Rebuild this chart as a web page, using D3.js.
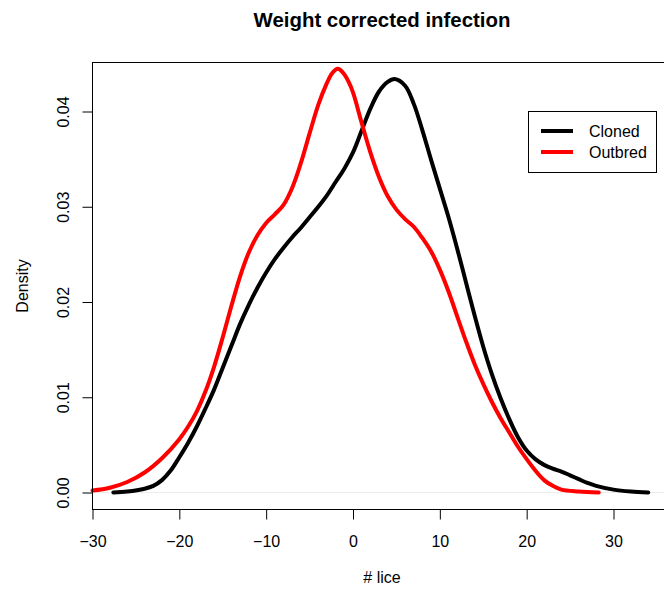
<!DOCTYPE html>
<html>
<head>
<meta charset="utf-8">
<script src="https://cdn.jsdelivr.net/npm/d3@7"></script>
<style>
html,body{margin:0;padding:0;background:#fff;}
svg{display:block;font-family:"Liberation Sans",Arial,Helvetica,sans-serif;}
</style>
</head>
<body>
<script>
// ---- data ----
const title = "Weight corrected infection";
const xLabel = "# lice";
const yLabel = "Density";
const seriesNames = ["Cloned", "Outbred"];
const seriesColors = ["#000000", "#ff0000"];

const clonedX = [-27.6,-26,-24,-23,-22,-21,-20,-19,-18,-17,-16,-15,-14,-13,-12,-11,-10,-9,-8,-7,-6,-5,-4,-3,-2,-1,0,1,2,3,4,4.8,6,7,8,9,10,11,12,13,14,15,16,17,18,19,20,21,22,23,24,25,26,27,28,30,32,34];
const clonedY = [0.0000,0.0001,0.0004,0.0007,0.0013,0.0023,0.0037,0.0052,0.0069,0.0088,0.0108,0.0131,0.0154,0.0177,0.0197,0.0215,0.0231,0.0245,0.0257,0.0268,0.0278,0.0289,0.0300,0.0312,0.0326,0.0340,0.0357,0.0380,0.0403,0.0421,0.0431,0.0434,0.0427,0.0408,0.0380,0.0349,0.0319,0.0289,0.0256,0.0221,0.0186,0.0153,0.0124,0.0099,0.0077,0.0058,0.0044,0.0035,0.0029,0.0025,0.0022,0.0018,0.0014,0.0010,0.0007,0.0003,0.0001,0.0000];

const outbredX = [-30,-28,-26,-24,-22,-20,-19,-18,-17,-16,-15,-14,-13,-12,-11,-10,-9,-8,-7,-6,-5,-4,-3,-2.5,-2,-1.75,-1.5,-1,-0.5,0,1,2,3,4,5,6,7,8,9,10,11,12,13,14,15,16,17,18,19,20,21,22,23,24,26,28.3];
const outbredY = [0.0002,0.0005,0.0011,0.0021,0.0036,0.0056,0.0069,0.0085,0.0106,0.0132,0.0163,0.0196,0.0227,0.0252,0.0270,0.0283,0.0292,0.0302,0.0320,0.0346,0.0377,0.0407,0.0430,0.0439,0.0444,0.0445,0.0444,0.0439,0.0431,0.0420,0.0388,0.0357,0.0331,0.0311,0.0297,0.0287,0.0279,0.0267,0.0253,0.0234,0.0211,0.0185,0.0159,0.0135,0.0114,0.0095,0.0078,0.0063,0.0048,0.0035,0.0023,0.0013,0.0007,0.0003,0.0001,0.0000];

const xTicks = [-30,-20,-10,0,10,20,30];
const yTicks = [0.00,0.01,0.02,0.03,0.04];

// ---- layout ----
const W = 664, H = 590;
const box = {left: 92.5, top: 62.5, right: 672, bottom: 509.5};

const svg = d3.select("body").append("svg").attr("width", W).attr("height", H);

const x = d3.scaleLinear().domain([-30, 30]).range([92.5, 613.5]);
const y = d3.scaleLinear().domain([0, 0.04]).range([492.5, 111.5]);

// zero line
svg.append("line")
  .attr("x1", box.left).attr("x2", box.right)
  .attr("y1", y(0)).attr("y2", y(0))
  .attr("stroke", "#ececec").attr("stroke-width", 1);

// curves
const line = d3.line().x(d => x(d[0])).y(d => y(d[1])).curve(d3.curveCatmullRom.alpha(0.5));
const series = [d3.zip(clonedX, clonedY), d3.zip(outbredX, outbredY)];
series.forEach((s, i) => {
  svg.append("path").datum(s)
    .attr("d", line)
    .attr("fill", "none")
    .attr("stroke", seriesColors[i])
    .attr("stroke-width", 4)
    .attr("stroke-linecap", "round")
    .attr("stroke-linejoin", "round");
});

// box
svg.append("rect")
  .attr("x", box.left).attr("y", box.top)
  .attr("width", box.right - box.left).attr("height", box.bottom - box.top)
  .attr("fill", "none").attr("stroke", "#000").attr("stroke-width", 1);

// x axis
const xAxis = d3.axisBottom(x).tickValues(xTicks).tickSize(10).tickPadding(16).tickFormat(d3.format("d"));
const gx = svg.append("g").attr("transform", `translate(0,${box.bottom})`).call(xAxis);
gx.select(".domain").remove();
gx.selectAll("text").attr("font-size", 16).attr("fill", "#000").attr("font-family", "Liberation Sans, Arial, sans-serif");
gx.selectAll("line").attr("stroke", "#000");

// y axis
const yAxis = d3.axisLeft(y).tickValues(yTicks).tickSize(10).tickFormat(d3.format(".2f"));
const gy = svg.append("g").attr("transform", `translate(${box.left},0)`).call(yAxis);
gy.select(".domain").remove();
gy.selectAll("line").attr("stroke", "#000");
gy.selectAll("text").remove();
gy.selectAll(".tick").append("text")
  .attr("transform", "translate(-24,0) rotate(-90)")
  .attr("text-anchor", "middle")
  .attr("font-size", 16)
  .attr("fill", "#000")
  .attr("font-family", "Liberation Sans, Arial, sans-serif")
  .text(d => d3.format(".2f")(d));

// title & labels
svg.append("text").attr("x", 382).attr("y", 27).attr("text-anchor", "middle")
  .attr("font-size", 20.4).attr("font-weight", "bold").text(title);
svg.append("text").attr("x", 382).attr("y", 583).attr("text-anchor", "middle")
  .attr("font-size", 16).text(xLabel);
svg.append("text").attr("transform", "translate(28,286) rotate(-90)").attr("text-anchor", "middle")
  .attr("font-size", 16).text(yLabel);

// legend
const lg = svg.append("g");
lg.append("rect").attr("x", 528.5).attr("y", 111.5).attr("width", 128).attr("height", 61)
  .attr("fill", "#fff").attr("stroke", "#000").attr("stroke-width", 1);
seriesNames.forEach((n, i) => {
  const yy = 131 + i * 21;
  lg.append("line").attr("x1", 541).attr("x2", 573).attr("y1", yy).attr("y2", yy)
    .attr("stroke", seriesColors[i]).attr("stroke-width", 4);
  lg.append("text").attr("x", 589).attr("y", yy).attr("dy", "0.35em")
    .attr("font-size", 16).text(n);
});
</script>
</body>
</html>
